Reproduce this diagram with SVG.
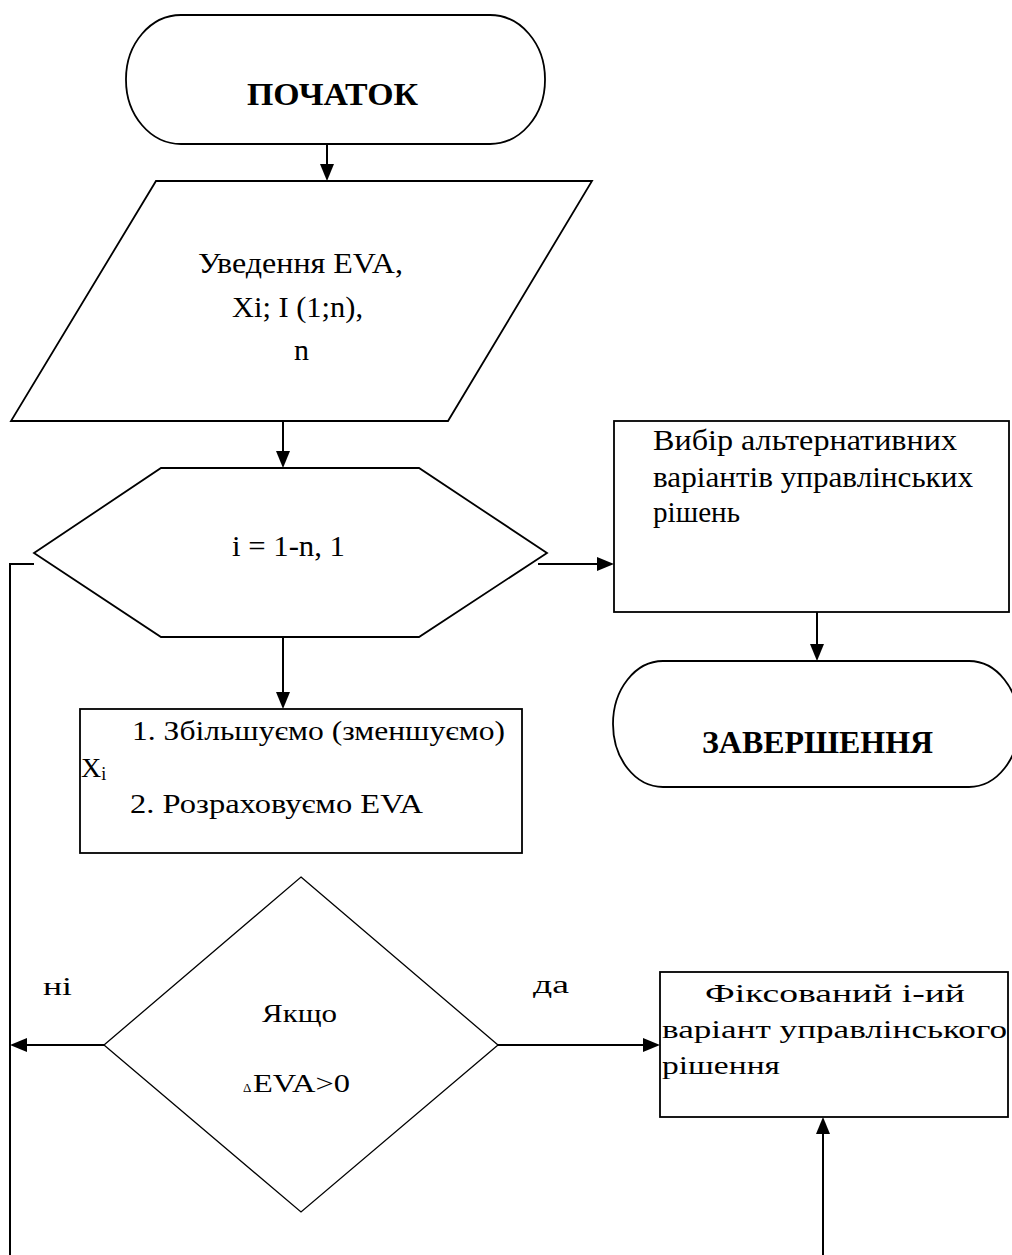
<svg xmlns="http://www.w3.org/2000/svg" width="1012" height="1255" viewBox="0 0 1012 1255">
<style>
.s{fill:#fff;stroke:#000;stroke-width:1.8}
.d{fill:#fff;stroke:#000;stroke-width:1.3}
.t{font-family:"Liberation Serif","Times New Roman",serif;fill:#000;font-size:30px}
.b{font-weight:bold;font-size:32px}
.m{font-size:28px}
.l{font-size:26px}
.sm{font-size:13px}
.sub{font-size:18px}
.c{fill:none;stroke:#000;stroke-width:2}
</style>
<g id="connectors">
<path class="c" d="M327,144 V165"/><path d="M320,164 L334,164 L327,181 Z"/>
<path class="c" d="M283,421 V452"/><path d="M276,451 L290,451 L283,468 Z"/>
<path class="c" d="M283,637 V693"/><path d="M276,692 L290,692 L283,709 Z"/>
<path class="c" d="M538,564 H598"/><path d="M597,557 L597,571 L614,564 Z"/>
<path class="c" d="M817,612 V645"/><path d="M810,644 L824,644 L817,661 Z"/>
<path class="c" d="M34,564 H10 V1255"/>
<path class="c" d="M104,1045 H26"/><path d="M27,1038 L27,1052 L10,1045 Z"/>
<path class="c" d="M498,1045 H644"/><path d="M643,1038 L643,1052 L660,1045 Z"/>
<path class="c" d="M823,1255 V1133"/><path d="M816,1134 L830,1134 L823,1117 Z"/>
</g>
<g id="start">
<rect class="s" x="126" y="15" width="419" height="129" rx="55" ry="64"/>
<text class="t b" x="247" y="105" textLength="171" lengthAdjust="spacingAndGlyphs">ПОЧАТОК</text>
</g>
<g id="input">
<polygon class="s" points="156,181 592,181 448,421 11,421"/>
<text class="t" x="198" y="273" textLength="205" lengthAdjust="spacingAndGlyphs">Уведення EVA,</text>
<text class="t" x="232" y="317" textLength="131" lengthAdjust="spacingAndGlyphs">Xi; I (1;n),</text>
<text class="t" x="294" y="360">n</text>
</g>
<g id="loop">
<polygon class="s" points="161,468 419,468 547,553 419,637 161,637 34,553"/>
<text class="t" x="232" y="556" textLength="113" lengthAdjust="spacingAndGlyphs">i = 1-n, 1</text>
</g>
<g id="choose">
<rect class="s" x="614" y="421" width="395" height="191"/>
<text class="t" x="653" y="450" textLength="304" lengthAdjust="spacingAndGlyphs">Вибір альтернативних</text>
<text class="t" x="653" y="487" textLength="320" lengthAdjust="spacingAndGlyphs">варіантів управлінських</text>
<text class="t" x="653" y="522" textLength="87" lengthAdjust="spacingAndGlyphs">рішень</text>
</g>
<g id="end">
<rect class="s" x="613" y="661" width="406" height="126" rx="50" ry="63"/>
<text class="t b" x="702" y="753" textLength="231" lengthAdjust="spacingAndGlyphs">ЗАВЕРШЕННЯ</text>
</g>
<g id="process">
<rect class="s" x="80" y="709" width="442" height="144"/>
<text class="t m" x="132" y="740" textLength="373" lengthAdjust="spacingAndGlyphs">1. Збільшуємо (зменшуємо)</text>
<text class="t m" x="81" y="777">X<tspan class="sub" dy="3">i</tspan></text>
<text class="t m" x="130" y="813" textLength="293" lengthAdjust="spacingAndGlyphs">2. Розраховуємо EVA</text>
</g>
<g id="decision">
<polygon class="d" points="301,877 498,1045 301,1212 104,1045"/>
<text class="t l" x="262" y="1022" textLength="75" lengthAdjust="spacingAndGlyphs">Якщо</text>
<text class="t sm" x="243" y="1092">Δ</text>
<text class="t l" x="253" y="1092" textLength="97" lengthAdjust="spacingAndGlyphs">EVA&gt;0</text>
</g>
<g id="labels">
<text class="t l" x="43" y="995" textLength="29" lengthAdjust="spacingAndGlyphs">ні</text>
<text class="t l" x="533" y="993" textLength="36" lengthAdjust="spacingAndGlyphs">да</text>
</g>
<g id="fixed">
<rect class="s" x="660" y="972" width="348" height="145"/>
<text class="t l" x="705" y="1002" textLength="260" lengthAdjust="spacingAndGlyphs">Фіксований і-ий</text>
<text class="t l" x="662" y="1038" textLength="345" lengthAdjust="spacingAndGlyphs">варіант управлінського</text>
<text class="t l" x="662" y="1074" textLength="118" lengthAdjust="spacingAndGlyphs">рішення</text>
</g>
</svg>
